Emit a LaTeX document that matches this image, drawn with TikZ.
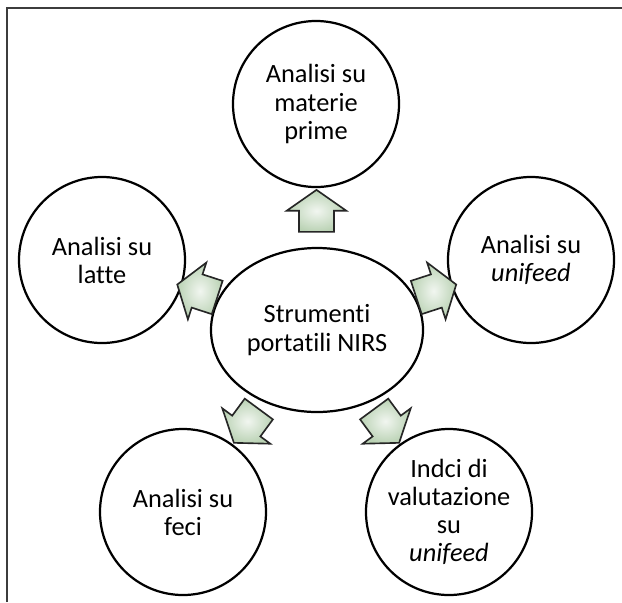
\documentclass[tikz,border=0pt]{standalone}
\usepackage{fontspec}
\setmainfont{Carlito}[Ligatures={NoCommon}]
\usepackage{xcolor}
\usepackage{tikz}
\usetikzlibrary{shapes, calc}

\definecolor{arrowgreen}{RGB}{186,210,180}
\definecolor{framegray}{RGB}{60,60,60}

\tikzset{
    topic/.style={circle, draw, line width=1.9pt, minimum size=4.98cm, inner sep=0pt, align=center, font=\fontsize{22.5}{24}\selectfont},
    hub/.style={ellipse, draw, line width=1.9pt, minimum width=6.36cm, minimum height=4.92cm, inner sep=0pt, align=center, font=\fontsize{22.5}{24}\selectfont},
    fatarrow/.style={single arrow, draw=black!85, line width=1.4pt, inner xsep=0pt, inner ysep=0.5cm, minimum height=1.26cm, single arrow head extend=0.37cm, single arrow tip angle=110, inner color=arrowgreen!20, outer color=arrowgreen}
}

\begin{document}
\begin{tikzpicture}[x=0.03cm, y=-0.03cm]
        \useasboundingbox (0,0) rectangle (622,602);
        % Frame (only top and left edges)
        \draw[framegray, line width=1.2pt] (7,602) -- (7,8) -- (622,8);

        % Central instrument and the five analyses
        \node[hub] (nirs) at (317,330) {Strumenti\\portatili NIRS};
        \node[topic] (materie) at (316,104) {Analisi su\\materie\\prime};
        \node[topic] (latte) at (102,260) {Analisi su\\latte};
        \node[topic] (unifeed) at (531,260) {Analisi su\\\textit{unifeed}};
        \node[topic] (feci) at (183,512) {Analisi su\\feci};
        \node[topic] (indici) at (449,512) {Indci di\\valutazione\\su\\\textit{unifeed}};

        % Block arrows from the centre outwards
        \foreach \t/\f/\a in {materie/0.5/90, latte/0.53/162, unifeed/0.53/18, feci/0.5/233.6, indici/0.5/306.4} {
                \node[fatarrow, rotate=\a] (arr-\t) at ($(nirs)!\f!(\t)$) {};
            }
    \end{tikzpicture}
\end{document}
